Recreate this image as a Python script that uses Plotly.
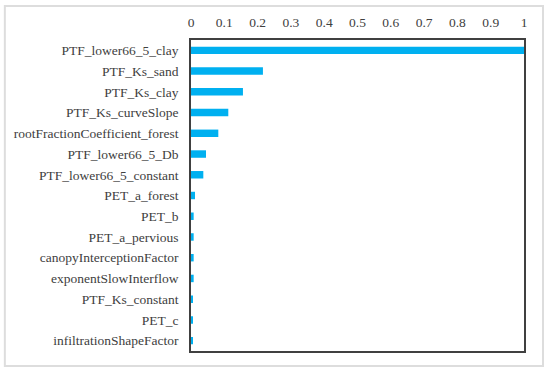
import plotly.graph_objects as go

categories = [
    "PTF_lower66_5_clay",
    "PTF_Ks_sand",
    "PTF_Ks_clay",
    "PTF_Ks_curveSlope",
    "rootFractionCoefficient_forest",
    "PTF_lower66_5_Db",
    "PTF_lower66_5_constant",
    "PET_a_forest",
    "PET_b",
    "PET_a_pervious",
    "canopyInterceptionFactor",
    "exponentSlowInterflow",
    "PTF_Ks_constant",
    "PET_c",
    "infiltrationShapeFactor",
]
values = [1.0, 0.216, 0.156, 0.112, 0.082, 0.045, 0.037,
          0.012, 0.008, 0.008, 0.008, 0.008, 0.004, 0.004, 0.004]
tick_vals = [0, 0.1, 0.2, 0.3, 0.4, 0.5, 0.6, 0.7, 0.8, 0.9, 1]
tick_text = ["0", "0.1", "0.2", "0.3", "0.4", "0.5", "0.6", "0.7", "0.8", "0.9", "1"]

fig = go.Figure(go.Bar(
    x=values, y=categories, orientation="h",
    marker=dict(color="#00B0F0", line=dict(width=0)),
    width=0.36,
))

font = dict(family="Liberation Serif", size=13.5, color="#404040")

fig.update_layout(
    width=550, height=374,
    margin=dict(l=191, r=26, t=40, b=23, autoexpand=False),
    paper_bgcolor="white", plot_bgcolor="white",
    font=font,
    showlegend=False,
    xaxis=dict(
        side="top", range=[0, 1], tickvals=tick_vals, ticktext=tick_text,
        showgrid=False, zeroline=False, showline=True, linecolor="#404040",
        linewidth=1.5, mirror=True, ticks="", ticklen=0, tickfont=font,
        automargin=False, ticklabelstandoff=6,
    ),
    yaxis=dict(
        autorange="reversed", showgrid=False, zeroline=False, showline=True,
        linecolor="#404040", linewidth=1.5, mirror=True, ticks="",
        tickfont=font, ticklabelstandoff=8, automargin=False,
    ),
    shapes=[dict(
        type="rect", xref="paper", yref="paper",
        x0=-0.559, x1=1.057, y0=-0.048, y1=1.109,
        line=dict(color="#DDDDDD", width=2), fillcolor="rgba(0,0,0,0)", layer="below",
    )],
)

fig.write_html("out.html", config={"displayModeBar": False},
               post_script="document.body.style.margin='0';")
